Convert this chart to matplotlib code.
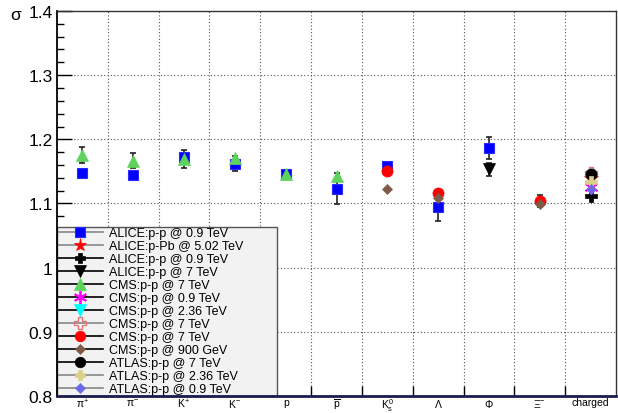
import numpy as np
import matplotlib
matplotlib.use("Agg")
import matplotlib.pyplot as plt
from matplotlib.lines import Line2D
from matplotlib.ticker import MultipleLocator, FixedLocator

plt.rcParams['font.family'] = ['Liberation Sans', 'DejaVu Sans']
plt.rcParams['mathtext.fontset'] = 'custom'
plt.rcParams['mathtext.rm'] = 'Liberation Sans'
plt.rcParams['mathtext.it'] = 'Liberation Sans'
plt.rcParams['mathtext.bf'] = 'Liberation Sans:bold'

nan = np.nan

# particle species on the x axis
categories = [r'$\pi^{+}$', r'$\pi^{-}$', r'$K^{+}$', r'$K^{-}$', 'p', r'$\overline{\rm p}$',
              r'$K^{0}_{s}$', r'$\Lambda$', r'$\Phi$', r'$\Xi^{-}$', 'charged']

# measured width parameter sigma per species (nan = not measured)
alice_pp09_sq = [1.148, 1.144, 1.172, 1.162, 1.146, 1.123, 1.158, 1.095, 1.187, nan, nan]
alice_pp09_sq_err = [0, 0, 0, 0.012, 0, 0.024, 0.006, 0.022, 0.017, 0, 0]
alice_ppb502 = [nan, nan, nan, nan, nan, nan, nan, nan, nan, nan, 1.139]
alice_pp09_plus = [nan, nan, nan, nan, nan, nan, nan, nan, nan, nan, 1.112]
alice_pp7 = [nan, nan, nan, nan, nan, nan, nan, nan, 1.153, nan, nan]
alice_pp7_err = [0, 0, 0, 0, 0, 0, 0, 0, 0.010, 0, 0]
cms_pp7_tri = [1.1755, 1.167, 1.170, 1.171, 1.146, 1.143, nan, nan, nan, nan, nan]
cms_pp7_tri_err = [0.012, 0.012, 0.014, 0, 0, 0, 0, 0, 0, 0, 0]
cms_pp09 = [nan, nan, nan, nan, nan, nan, nan, nan, nan, nan, 1.125]
cms_pp236 = [nan, nan, nan, nan, nan, nan, nan, nan, nan, nan, 1.142]
cms_pp7_cross = [nan, nan, nan, nan, nan, nan, nan, nan, nan, nan, 1.148]
cms_pp7_circ = [nan, nan, nan, nan, nan, nan, 1.150, 1.117, nan, 1.104, nan]
cms_pp7_circ_err = [0, 0, 0, 0, 0, 0, 0, 0, 0, 0.0095, 0]
cms_pp900 = [nan, nan, nan, nan, nan, nan, 1.123, 1.108, nan, 1.0985, nan]
atlas_pp7 = [nan, nan, nan, nan, nan, nan, nan, nan, nan, nan, 1.146]
atlas_pp236 = [nan, nan, nan, nan, nan, nan, nan, nan, nan, nan, 1.134]
atlas_pp09 = [nan, nan, nan, nan, nan, nan, nan, nan, nan, nan, 1.122]

labels = ['ALICE:p-p @ 0.9 TeV', 'ALICE:p-Pb @ 5.02 TeV', 'ALICE:p-p @ 0.9 TeV',
          'ALICE:p-p @ 7 TeV', 'CMS:p-p @ 7 TeV', 'CMS:p-p @ 0.9 TeV', 'CMS:p-p @ 2.36 TeV',
          'CMS:p-p @ 7 TeV', 'CMS:p-p @ 7 TeV', 'CMS:p-p @ 900 GeV', 'ATLAS:p-p @ 7 TeV',
          'ATLAS:p-p @ 2.36 TeV', 'ATLAS:p-p @ 0.9 TeV']

series = [alice_pp09_sq, alice_ppb502, alice_pp09_plus, alice_pp7, cms_pp7_tri, cms_pp09,
          cms_pp236, cms_pp7_cross, cms_pp7_circ, cms_pp900, atlas_pp7, atlas_pp236, atlas_pp09]
errors = [alice_pp09_sq_err, None, None, alice_pp7_err, cms_pp7_tri_err, None,
          None, None, cms_pp7_circ_err, None, None, None, None]

# marker style per series: marker, face, edge, size, edge width, line colour
styles = [
    dict(marker='s', mfc='#0000ff', mec='#2a2aff', ms=7.5, mew=0.8, lc='#888888'),
    dict(marker='*', mfc='#ff0000', mec='#ff0000', ms=10, mew=0.5, lc='#888888'),
    dict(marker='P', mfc='#000000', mec='#000000', ms=8, mew=0.5, lc='#000000'),
    dict(marker='v', mfc='#000000', mec='#000000', ms=8.5, mew=0.5, lc='#000000'),
    dict(marker='^', mfc='#5dd35d', mec='#5dd35d', ms=8.5, mew=0.5, lc='#000000'),
    dict(marker=(6, 2, 0), mfc='#ff00ff', mec='#ff00ff', ms=10, mew=1.3, lc='#000000'),
    dict(marker='v', mfc='#00ffff', mec='#00ffff', ms=8.5, mew=0.5, lc='#000000'),
    dict(marker='P', mfc='none', mec='#e07878', ms=9, mew=1.0, lc='#888888'),
    dict(marker='o', mfc='#ff0000', mec='#ff0000', ms=8, mew=0.5, lc='#000000'),
    dict(marker='D', mfc='#7f5a48', mec='#7f5a48', ms=5.5, mew=0.5, lc='#000000'),
    dict(marker='o', mfc='#000000', mec='#000000', ms=8, mew=0.5, lc='#000000'),
    dict(marker='P', mfc='#d8d08c', mec='#d8d08c', ms=8, mew=0.5, lc='#888888'),
    dict(marker='D', mfc='#6b6be6', mec='#6b6be6', ms=5.5, mew=0.5, lc='#888888'),
]

W, H = 618, 414
fig = plt.figure(figsize=(W / 100, H / 100), dpi=100)
ax = fig.add_axes([57 / W, 17 / H, 559 / W, 385 / H])

x = np.arange(len(categories))
ax.set_xlim(-0.5, len(categories) - 0.5)
ax.set_ylim(0.8, 1.4)

# dotted grid at category borders and at the major y ticks
for b in np.arange(0.5, len(categories) - 0.5, 1.0):
    ax.axvline(b, color='#555555', lw=0.8, ls=(0, (1, 2)), zorder=0.5)
for yv in [0.9, 1.0, 1.1, 1.2, 1.3]:
    ax.axhline(yv, color='#555555', lw=0.8, ls=(0, (1, 2)), zorder=0.5)

handles = []
for vals, err, st, lab in zip(series, errors, styles, labels):
    vals = np.asarray(vals, dtype=float)
    if err is not None:
        e = np.asarray(err, dtype=float)
        m = e > 0
        ax.errorbar(x[m], vals[m], yerr=e[m], fmt='none', ecolor='#222222',
                    elinewidth=1.2, capsize=2.5, capthick=1.2, zorder=3)
    ax.plot(x, vals, ls='none', marker=st['marker'], mfc=st['mfc'], mec=st['mec'],
            ms=st['ms'], mew=st['mew'], zorder=4)
    handles.append(Line2D([], [], color=st['lc'], lw=1.2, marker=st['marker'],
                          mfc=st['mfc'], mec=st['mec'], ms=st['ms'] * 0.95, mew=st['mew'],
                          label=lab))

# y axis ticks
ax.yaxis.set_major_locator(MultipleLocator(0.1))
ax.yaxis.set_minor_locator(MultipleLocator(0.02))
ax.yaxis.set_major_formatter(plt.FuncFormatter(lambda v, p: f'{v:g}'))
ax.tick_params(axis='y', which='major', direction='in', length=11, width=1,
               labelsize=12.5, pad=3, right=False)
ax.tick_params(axis='y', which='minor', direction='in', length=5, width=1, right=False)

# x axis: ticks at category borders, labels at centres
ax.xaxis.set_major_locator(FixedLocator(np.arange(0.5, len(categories) - 0.5, 1.0)))
ax.xaxis.set_major_formatter(plt.NullFormatter())
ax.xaxis.set_minor_locator(FixedLocator(x))
ax.set_xticklabels(categories, minor=True)
ax.tick_params(axis='x', which='major', direction='in', length=7, width=1, top=False)
ax.tick_params(axis='x', which='minor', length=0, labelsize=7.5, pad=0.5, top=False)

for s in ['top', 'right']:
    ax.spines[s].set_color('#333333')
    ax.spines[s].set_linewidth(1.0)
ax.spines['left'].set_linewidth(1.3)
ax.spines['bottom'].set_color('#1c1c50')
ax.spines['bottom'].set_linewidth(2)

leg = ax.legend(handles=handles, loc='lower left', bbox_to_anchor=(0, 0, 220 / 559, 0.44),
                mode='expand', borderaxespad=0, fontsize=9, labelspacing=0.08,
                handlelength=3.6, handletextpad=0.52, borderpad=0.05,
                frameon=True, fancybox=False, facecolor='#f2f2f2', edgecolor='#555555',
                framealpha=1, numpoints=1)
leg.set_zorder(2)
leg.get_frame().set_linewidth(1.0)

fig.text(10 / W, 1 - 15 / H, 'σ', fontsize=12.5, va='center', ha='left')

fig.savefig('out.png', dpi=100)
